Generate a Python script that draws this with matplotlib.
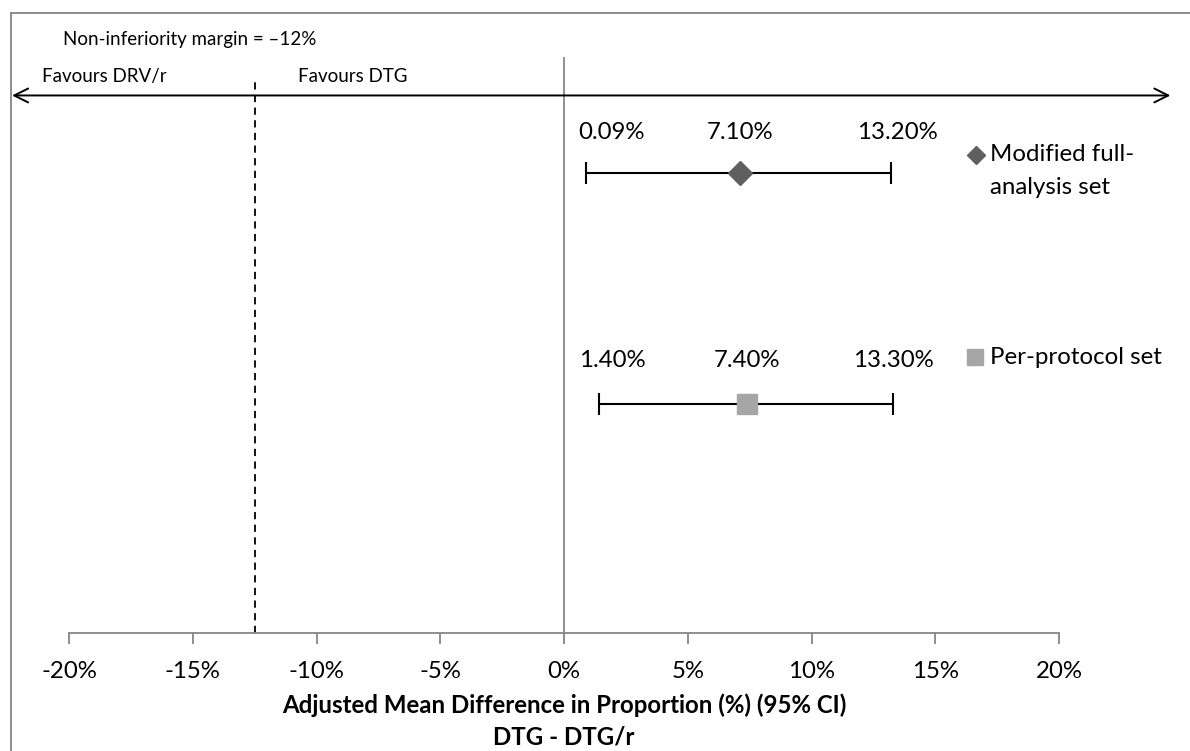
import matplotlib
matplotlib.use("Agg")
import matplotlib.pyplot as plt
from matplotlib.lines import Line2D

plt.rcParams['font.family'] = ['Lato', 'DejaVu Sans']

# data
sets = ["Modified full-\nanalysis set", "Per-protocol set"]
mean_diff = [7.1, 7.4]
ci_low = [0.9, 1.4]
ci_high = [13.2, 13.3]
label_low = ["0.09%", "1.40%"]
label_mid = ["7.10%", "7.40%"]
label_high = ["13.20%", "13.30%"]
margin = -12.5
ticks = [-20, -15, -10, -5, 0, 5, 10, 15, 20]

row_y = [0.742, 0.369]
label_dy = [0.066, 0.071]
low_dx = [18, 9.5]
high_dx = [5, 0]
markers = ["D", "s"]
colors = ["#5f5f5f", "#a6a6a6"]
msizes = [12, 14]
FS = 17.3

fig = plt.figure(figsize=(11.9, 7.51), dpi=100)
ax = fig.add_axes([69 / 1190, 1 - 633 / 751, 990 / 1190, 620 / 751])
ax.set_xlim(-20, 20)
ax.set_ylim(0, 1)

# outer border (left + top)
fig.add_artist(Line2D([11 / 1190, 11 / 1190], [0, 1 - 13 / 751], transform=fig.transFigure,
                      color="#868686", lw=1.3))
fig.add_artist(Line2D([11 / 1190, 1], [1 - 13 / 751, 1 - 13 / 751], transform=fig.transFigure,
                      color="#868686", lw=1.3))

# zero line and margin line
ax.plot([0, 0], [0, 0.927], color="#868686", lw=1.3, clip_on=False)
ax.plot([margin, margin], [0, 0.889], color="black", lw=1.3, ls=(0, (4, 3)), clip_on=False)

# double-headed arrow
ax.annotate("", xy=(-22.3, 0.867), xytext=(24.5, 0.867), xycoords="data",
            annotation_clip=False,
            arrowprops=dict(arrowstyle="<->,head_length=1.0,head_width=0.5",
                            color="black", lw=1.4, shrinkA=0, shrinkB=0))

ax.text(-20.24, 0.958, "Non-inferiority margin = \u201312%", fontsize=13.5, va="center")
ax.text(-21.09, 0.898, "Favours DRV/r", fontsize=13.5, va="center")
ax.text(-10.75, 0.898, "Favours DTG", fontsize=13.5, va="center")

for i in range(len(sets)):
    y = row_y[i]
    ax.errorbar(mean_diff[i], y, xerr=[[mean_diff[i] - ci_low[i]], [ci_high[i] - mean_diff[i]]],
                fmt="none", ecolor="black", elinewidth=1.5, capsize=8, capthick=1.5, zorder=2)
    ax.plot(mean_diff[i], y, marker=markers[i], color=colors[i], ms=msizes[i], ls="none", zorder=3)
    ty = y + label_dy[i]
    ax.annotate(label_low[i], (ci_low[i], ty), xytext=(low_dx[i], 0), textcoords="offset points",
                ha="center", va="center", fontsize=FS)
    ax.annotate(label_mid[i], (mean_diff[i], ty), xytext=(0, 0), textcoords="offset points",
                ha="center", va="center", fontsize=FS)
    ax.annotate(label_high[i], (ci_high[i], ty), xytext=(high_dx[i], 0), textcoords="offset points",
                ha="center", va="center", fontsize=FS)

# legend-like labels on the right
ax.plot(16.65, 0.771, marker="D", color=colors[0], ms=9, ls="none", clip_on=False)
ax.text(17.22, 0.771, "Modified full-", fontsize=FS, va="center")
ax.text(17.22, 0.719, "analysis set", fontsize=FS, va="center")
ax.plot(16.6, 0.445, marker="s", color=colors[1], ms=12, ls="none", clip_on=False)
ax.text(17.2, 0.445, "Per-protocol set", fontsize=FS, va="center")

for s in ["top", "right", "left"]:
    ax.spines[s].set_visible(False)
ax.spines["bottom"].set_color("#868686")
ax.spines["bottom"].set_linewidth(1.3)
ax.set_yticks([])
ax.set_xticks(ticks)
ax.set_xticklabels([f"{t}%" for t in ticks], fontsize=FS)
ax.tick_params(axis="x", direction="out", length=8, width=1.3, color="#868686", pad=12.5)
ax.set_xlabel("Adjusted Mean Difference in Proportion (%) (95% CI)\nDTG - DTG/r",
              fontsize=FS, fontweight="bold", labelpad=8, linespacing=1.45)

fig.savefig("out.png", dpi=100)
